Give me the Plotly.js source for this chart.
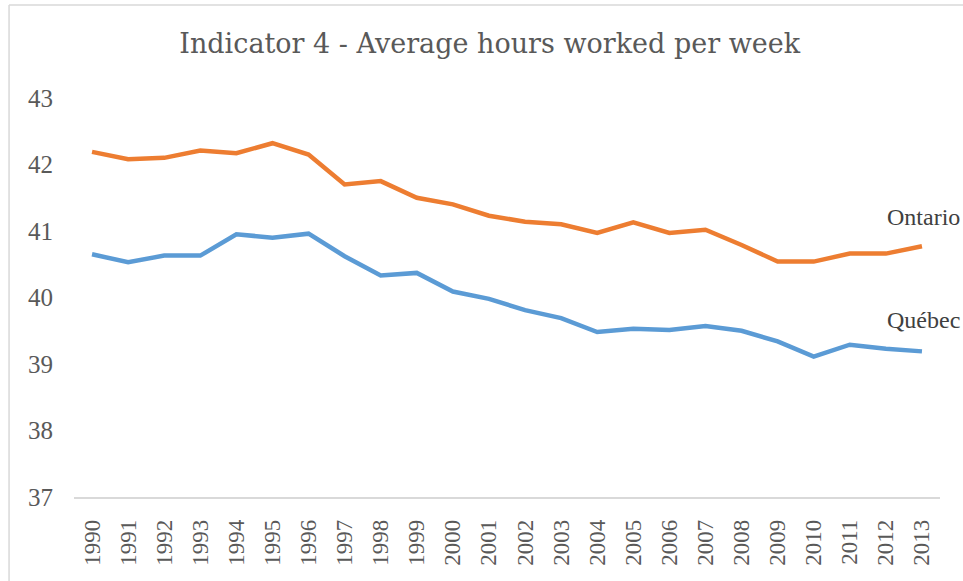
<!DOCTYPE html>
<html>
<head>
<meta charset="utf-8">
<script src="https://cdn.plot.ly/plotly-3.0.1.min.js"></script>
<style>html,body{margin:0;padding:0;background:#fff;}#chart{width:963px;height:581px;}</style>
</head>
<body>
<div id="chart"></div>
<script>
var years = ["1990","1991","1992","1993","1994","1995","1996","1997","1998","1999","2000","2001","2002","2003","2004","2005","2006","2007","2008","2009","2010","2011","2012","2013"];
var ontario = [42.19,42.08,42.10,42.21,42.17,42.32,42.15,41.70,41.75,41.50,41.40,41.23,41.14,41.10,40.97,41.13,40.97,41.02,40.79,40.54,40.54,40.66,40.66,40.77];
var quebec = [40.65,40.53,40.63,40.63,40.95,40.90,40.96,40.62,40.33,40.37,40.09,39.98,39.81,39.69,39.48,39.53,39.51,39.57,39.50,39.34,39.11,39.29,39.23,39.19];
var seriesNames = ["Ontario","Québec"];
var titleText = "Indicator 4 - Average hours worked per week";

var fontFam = "Liberation Serif, serif";
var titleFam = "DejaVu Serif, serif";
var textCol = "#595959";

var traces = [
  {x: years, y: ontario, type: "scatter", mode: "lines", name: seriesNames[0],
   line: {color: "#ED7D31", width: 4.5, shape: "linear"}, hoverinfo: "x+y"},
  {x: years, y: quebec, type: "scatter", mode: "lines", name: seriesNames[1],
   line: {color: "#5B9BD5", width: 4.5, shape: "linear"}, hoverinfo: "x+y"}
];

var layout = {
  width: 963, height: 581,
  margin: {l: 74, r: 23, t: 98, b: 84},
  paper_bgcolor: "#ffffff", plot_bgcolor: "#ffffff",
  showlegend: false,
  font: {family: fontFam, color: textCol},
  title: {text: titleText, font: {family: titleFam, size: 27, color: textCol},
          x: 0.48, xref: "paper", xanchor: "center", y: 0.925, yref: "container", yanchor: "middle"},
  xaxis: {
    type: "category", range: [-0.5, 23.5], showgrid: false, zeroline: false,
    showline: true, linecolor: "#d9d9d9", linewidth: 1.5,
    ticks: "outside", ticklen: 0, tickangle: -90,
    ticklabelstandoff: 12,
    tickfont: {family: fontFam, size: 23, color: textCol}
  },
  yaxis: {
    range: [37, 43], dtick: 1, showgrid: false, zeroline: false, showline: false,
    ticks: "", ticklabelstandoff: 20,
    tickfont: {family: fontFam, size: 25, color: textCol}
  },
  annotations: [
    {text: seriesNames[0], xref: "paper", yref: "paper", x: 0.9365, y: 0.702,
     xanchor: "left", yanchor: "middle", showarrow: false,
     font: {family: fontFam, size: 24, color: "#404040"}},
    {text: seriesNames[1], xref: "paper", yref: "paper", x: 0.9365, y: 0.444,
     xanchor: "left", yanchor: "middle", showarrow: false,
     font: {family: fontFam, size: 24, color: "#404040"}}
  ],
  shapes: [
    {type: "line", xref: "paper", yref: "paper", x0: -0.075, x1: 1.1, y0: 1.233, y1: 1.233,
     line: {color: "#d9d9d9", width: 1.5}},
    {type: "line", xref: "paper", yref: "paper", x0: -0.075, x1: -0.075, y0: -0.3, y1: 1.233,
     line: {color: "#d9d9d9", width: 1.5}}
  ]
};

Plotly.newPlot("chart", traces, layout, {displayModeBar: false, staticPlot: true});
</script>
</body>
</html>
